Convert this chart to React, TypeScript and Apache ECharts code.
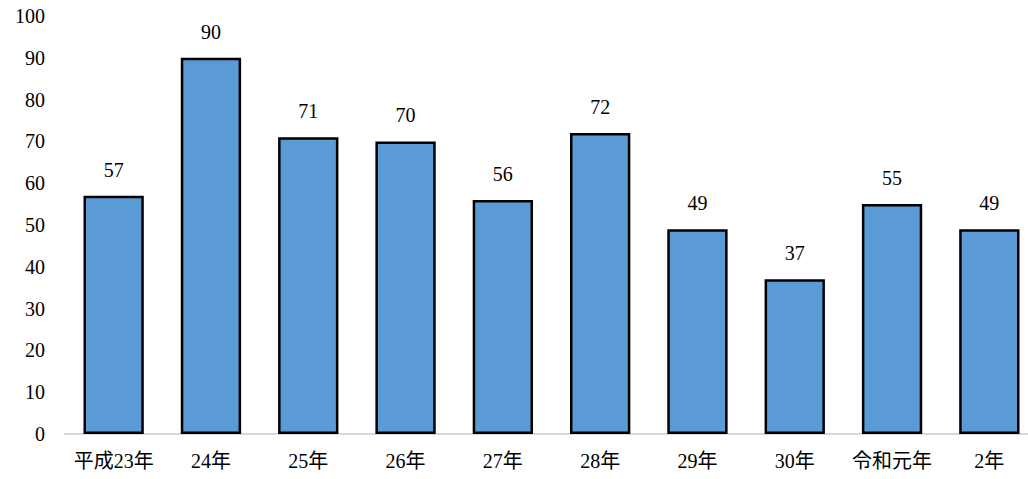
import React, { useEffect, useRef } from "react";
import * as echarts from "echarts";

const categories = ["平成23年", "24年", "25年", "26年", "27年", "28年", "29年", "30年", "令和元年", "2年"];
const values = [57, 90, 71, 70, 56, 72, 49, 37, 55, 49];
const yTicks = { min: 0, max: 100, interval: 10 };

const FONT = "Liberation Serif, Noto Sans CJK JP";

export default function App() {
  const ref = useRef<HTMLDivElement>(null);
  useEffect(() => {
    const chart = echarts.init(ref.current!, null, { renderer: "svg" });
    chart.setOption({
      animation: false,
      backgroundColor: "#ffffff",
      textStyle: { fontFamily: FONT },
      grid: { left: 65, width: 973, top: 16, height: 418, containLabel: false, outerBoundsMode: "none" },
      xAxis: {
        type: "category",
        data: categories,
        axisLine: { show: true, lineStyle: { color: "#d9d9d9", width: 2 } },
        axisTick: { show: false },
        axisLabel: { color: "#000", fontSize: 20, fontFamily: FONT, margin: 17, interval: 0 },
      },
      yAxis: {
        type: "value",
        min: yTicks.min,
        max: yTicks.max,
        interval: yTicks.interval,
        splitLine: { show: false },
        axisLine: { show: false },
        axisTick: { show: false },
        axisLabel: { color: "#000", fontSize: 20, fontFamily: FONT, margin: 20 },
      },
      series: [
        {
          type: "bar",
          data: values,
          barWidth: "62%",
          itemStyle: { color: "#5b9bd5", borderColor: "#000", borderWidth: 2.5 },
          label: {
            show: true,
            position: "top",
            distance: 16,
            color: "#000",
            fontSize: 20,
            fontFamily: FONT,
          },
        },
      ],
    });
    return () => chart.dispose();
  }, []);
  return (
    <div
      ref={ref}
      style={{ position: "absolute", left: 0, top: 0, width: 1028, height: 479, background: "#fff", overflow: "hidden" }}
    />
  );
}
